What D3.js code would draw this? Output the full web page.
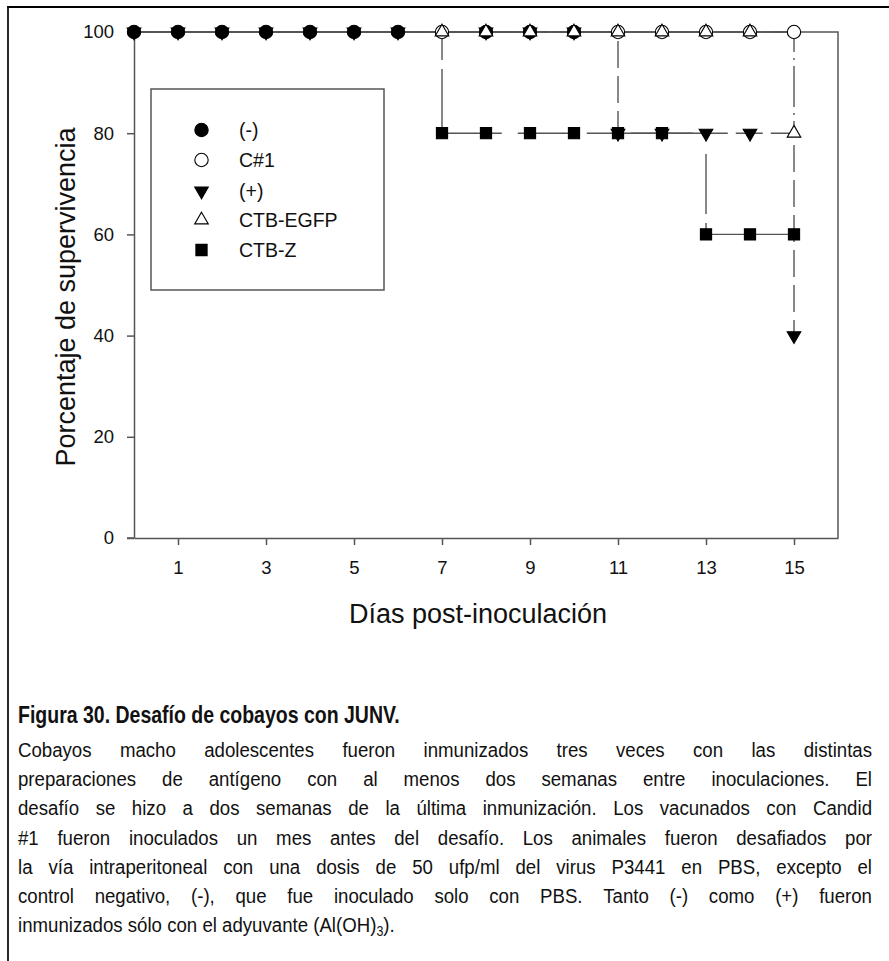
<!DOCTYPE html>
<html>
<head>
<meta charset="utf-8">
<script src="https://cdn.jsdelivr.net/npm/d3@7"></script>
<style>
  body { margin: 0; background: #fff; }
  svg { display: block; }
</style>
</head>
<body>
<svg id="fig" width="889" height="961"></svg>
<script>
// dias post-inoculacion
var days = d3.range(0, 16);

// % de supervivencia por dia (0..15)
var neg   = [100,100,100,100,100,100,100,100,100,100,100,100,100,100,100,100];
var c1    = [100,100,100,100,100,100,100,100,100,100,100,100,100,100,100,100];
var pos   = [100,100,100,100,100,100,100,100,100,100,100, 80, 80, 80, 80, 40];
var egfp  = [100,100,100,100,100,100,100,100,100,100,100,100,100,100,100, 80];
var ctbz  = [100,100,100,100,100,100,100, 80, 80, 80, 80, 80, 80, 60, 60, 60];

// dias en que se ve el simbolo de cada serie
var negMarks  = [0,1,2,3,4,5,6,8,9,10];
var c1Marks   = [7,11,12,13,14,15];
var posMarks  = [0,1,2,3,4,5,6,8,9,10,11,12,13,14,15];
var egfpMarks = [7,8,9,10,11,12,13,14,15];
var ctbzMarks = [7,8,9,10,11,12,13,14,15];

var labels = ["(-)", "C#1", "(+)", "CTB-EGFP", "CTB-Z"];
var yTicks = [0, 20, 40, 60, 80, 100];
var xTicks = [1, 3, 5, 7, 9, 11, 13, 15];

var caption = "Figura 30. Desafío de cobayos con JUNV.";
var bodyLines = [
  "Cobayos macho adolescentes fueron inmunizados tres veces con las distintas",
  "preparaciones de antígeno con al menos dos semanas entre inoculaciones. El",
  "desafío se hizo a dos semanas de la última inmunización. Los vacunados con Candid",
  "#1 fueron inoculados un mes antes del desafío. Los animales fueron desafiados por",
  "la vía intraperitoneal con una dosis de 50 ufp/ml del virus P3441 en PBS, excepto el",
  "control negativo, (-), que fue inoculado solo con PBS. Tanto (-) como (+) fueron"
];
var lastLine = ["inmunizados sólo con el adyuvante (Al(OH)", "3", ")."];

var svg = d3.select("#fig");
var grey = "#555";
var font = "'Liberation Sans', Arial, sans-serif";

// marco de la figura (solo arriba e izquierda)
svg.append("line").attr("x1", 7).attr("x2", 889).attr("y1", 7).attr("y2", 7)
  .attr("stroke", "#000").attr("stroke-width", 2.2);
svg.append("line").attr("x1", 8).attr("x2", 8).attr("y1", 6).attr("y2", 961)
  .attr("stroke", "#111").attr("stroke-width", 1.8);

var x = d3.scaleLinear().domain([0, 16]).range([134, 838]);
var y = d3.scaleLinear().domain([0, 100]).range([538, 32]);

// caja del grafico
svg.append("path")
  .attr("d", "M" + x(0) + "," + y(100) + "H" + x(16) + "V" + y(0))
  .attr("fill", "none").attr("stroke", grey).attr("stroke-width", 1.5);

var yAxis = svg.append("g").attr("transform", "translate(" + x(0) + ",0)")
  .call(d3.axisLeft(y).tickValues(yTicks).tickSize(7).tickSizeOuter(0).tickPadding(13));
var xAxis = svg.append("g").attr("transform", "translate(0," + y(0) + ")")
  .call(d3.axisBottom(x).tickValues(xTicks).tickSize(7).tickSizeOuter(0).tickPadding(16));
[yAxis, xAxis].forEach(function(a) {
  a.select(".domain").attr("stroke", grey).attr("stroke-width", 1.5);
  a.selectAll(".tick line").attr("stroke", grey).attr("stroke-width", 1.5);
  a.selectAll(".tick text").attr("fill", "#111").style("font-family", font).style("font-size", "18.5px");
});
svg.append("line").attr("x1", x(0) - 7).attr("x2", x(0)).attr("y1", y(0)).attr("y2", y(0))
  .attr("stroke", grey).attr("stroke-width", 1.5);

svg.append("text")
  .attr("transform", "translate(75," + ((y(0) + y(100)) / 2 + 12) + ") rotate(-90)")
  .attr("text-anchor", "middle")
  .style("font-family", font).style("font-size", "27px").attr("fill", "#111")
  .text("Porcentaje de supervivencia");
svg.append("text")
  .attr("x", 478).attr("y", 623)
  .attr("text-anchor", "middle")
  .style("font-family", font).style("font-size", "27px").attr("fill", "#111")
  .text("Días post-inoculación");

// lineas escalonadas
var step = d3.line().x(function(d) { return x(d[0]); }).y(function(d) { return y(d[1]); })
  .curve(d3.curveStepAfter);
var series = [
  { vals: neg,  marks: negMarks,  dash: null,          off: 0,  sym: "circle", fill: "#000" },
  { vals: c1,   marks: c1Marks,   dash: "2,4",         off: 0,  sym: "circle", fill: "#fff" },
  { vals: pos,  marks: posMarks,  dash: "27,8",        off: 32, sym: "down",   fill: "#000" },
  { vals: egfp, marks: egfpMarks, dash: "41,6,2,6",    off: 21, sym: "up",     fill: "#fff" },
  { vals: ctbz, marks: ctbzMarks, dash: "124,16,60,9", off: 73, sym: "square", fill: "#000" }
];

series.slice().reverse().forEach(function(s) {
  svg.append("path")
    .attr("d", step(days.map(function(d, i) { return [d, s.vals[i]]; })))
    .attr("fill", "none").attr("stroke", grey).attr("stroke-width", 1.4)
    .attr("stroke-dasharray", s.dash)
    .attr("stroke-dashoffset", s.off);
});

function symPath(kind) {
  if (kind === "circle") return d3.symbol(d3.symbolCircle, 140)();
  if (kind === "square") return d3.symbol(d3.symbolSquare, 125)();
  return d3.symbol(d3.symbolTriangle, 80)();
}

function drawSym(g, kind, fill, cx, cy) {
  g.append("path")
    .attr("d", symPath(kind))
    .attr("transform", "translate(" + cx + "," + cy + ")" + (kind === "down" ? " rotate(180)" : ""))
    .attr("fill", fill).attr("stroke", "#000").attr("stroke-width", 1.1);
}

var marks = svg.append("g");
series.forEach(function(s) {
  s.marks.forEach(function(d) {
    drawSym(marks, s.sym, s.fill, x(d), y(s.vals[d]));
  });
});

// leyenda
var leg = svg.append("g");
leg.append("rect").attr("x", 151).attr("y", 89).attr("width", 233).attr("height", 201)
  .attr("fill", "#fff").attr("stroke", grey).attr("stroke-width", 1.5);
var legRows = [130, 160, 191, 220, 250];
series.forEach(function(s, i) {
  drawSym(leg, s.sym, s.fill, 201.5, legRows[i]);
  leg.append("text").attr("x", 239).attr("y", legRows[i] + 7)
    .style("font-family", font).style("font-size", "19.5px").attr("fill", "#111")
    .text(labels[i]);
});

// pie de figura (letra estrecha: se comprime en horizontal)
var left = 18, right = 872, top0 = 757, lh = 29.2, narrowK = 0.83;

svg.append("g").attr("transform", "translate(" + left + ",0) scale(" + narrowK + ",1)")
  .append("text").attr("y", 723)
  .style("font-family", font).style("font-size", "23.5px").style("font-weight", "bold")
  .attr("fill", "#111").text(caption);

var bodyG = svg.append("g").style("font-family", font).style("font-size", "21px").attr("fill", "#111");
var lt = bodyG.append("text").attr("x", 0).attr("y", top0 + bodyLines.length * lh);
lt.append("tspan").text(lastLine[0]);
lt.append("tspan").attr("dy", 4).style("font-size", "14px").text(lastLine[1]);
lt.append("tspan").attr("dy", -4).text(lastLine[2]);
// la ultima linea (sin justificar) fija el ancho de la letra
var bs = 377 / lt.node().getComputedTextLength();
bodyG.attr("transform", "translate(" + left + ",0) scale(" + bs + ",1)");
var W = (right - left) / bs;

bodyLines.forEach(function(line, i) {
  var words = line.split(" ");
  var nodes = words.map(function(w) {
    return bodyG.append("text").attr("y", top0 + i * lh).text(w);
  });
  var widths = nodes.map(function(n) { return n.node().getComputedTextLength(); });
  var gap = (W - d3.sum(widths)) / (words.length - 1);
  var cx = 0;
  nodes.forEach(function(n, j) { n.attr("x", cx); cx += widths[j] + gap; });
});
</script>
</body>
</html>
